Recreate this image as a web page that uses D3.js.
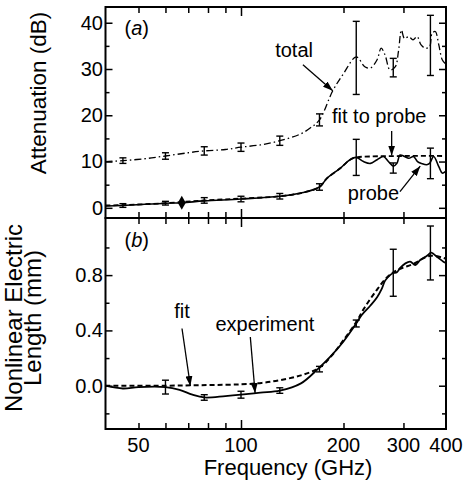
<!DOCTYPE html>
<html>
<head>
<meta charset="utf-8">
<script src="https://cdn.jsdelivr.net/npm/d3@7"></script>
<style>
  body { margin: 0; background: #fff; }
  svg text { font-family: "Liberation Sans", Arial, sans-serif; fill: #000; }
</style>
</head>
<body>
<div id="chart"></div>
<script>
"use strict";

// (a) attenuation, total (dash-dot)
const totalFreq = [40, 45, 52, 60, 70, 78, 90, 100, 114, 130, 150, 160, 170, 186, 200, 218, 231, 240, 251, 258, 265, 274, 284, 290, 296, 302, 311, 320, 329, 338, 348, 358, 364, 372, 381, 390, 398];
const totalDb   = [10.0, 10.2, 10.6, 11.2, 11.9, 12.3, 12.6, 13.1, 13.6, 14.5, 16.0, 17.3, 19.0, 25.3, 29.0, 32.6, 30.5, 30.2, 32.0, 34.5, 33.0, 29.8, 30.5, 33.8, 38.4, 36.6, 37.0, 36.3, 37.0, 35.2, 34.5, 34.8, 37.7, 38.1, 35.2, 32.0, 31.2];

// (a) probe (solid)
const probeFreq = [40, 45, 60, 67, 78, 100, 130, 150, 170, 179, 196, 209, 218, 229, 240, 251, 262, 271, 280, 287, 293, 302, 311, 321, 330, 339, 351, 358, 368, 381, 390, 398];
const probeDb   = [0.4, 0.5, 1.0, 1.1, 1.5, 1.9, 2.5, 3.2, 4.5, 6.4, 8.6, 10.4, 10.9, 10.0, 9.6, 10.4, 11.1, 10.0, 9.0, 9.6, 11.4, 11.1, 10.7, 11.1, 10.0, 9.6, 9.3, 9.6, 11.1, 8.9, 7.5, 7.8];

// (a) fit to probe (dashed)
const fitProbeFreq = [40, 45, 60, 78, 100, 130, 150, 170, 179, 196, 209, 218, 240, 300, 398];
const fitProbeDb   = [0.5, 0.6, 1.0, 1.6, 2.0, 2.5, 3.2, 4.5, 6.4, 8.6, 10.4, 10.9, 11.1, 11.2, 11.2];

// (a) error bars
const errFreqA   = [45, 60, 78, 100, 130, 170, 218, 280, 360];
const totalMid   = [10.2, 11.2, 12.3, 13.1, 14.5, 19.0, 32.4, 30.3, 35.1];
const totalHalf  = [0.6, 0.7, 0.9, 0.9, 1.0, 1.3, 7.9, 2.0, 6.5];
const probeMid   = [0.5, 1.0, 1.6, 1.9, 2.5, 4.5, 10.9, 8.6, 9.6];
const probeHalf  = [0.4, 0.4, 0.6, 0.6, 0.6, 0.7, 3.9, 1.1, 3.3];

// (a) reference point (diamond)
const diamondFreq = [67];
const diamondDb   = [1.1];

// (b) nonlinear electric length, experiment (solid)
const expFreq = [40, 45, 50, 60, 66, 72, 78, 90, 100, 114, 130, 150, 168, 183, 200, 218, 226, 240, 251, 259, 265, 274, 280, 287, 293, 304, 314, 325, 336, 351, 362, 376, 393, 398];
const expMm   = [0.0, -0.02, -0.01, -0.01, -0.03, -0.065, -0.085, -0.075, -0.065, -0.05, -0.036, 0.017, 0.12, 0.21, 0.32, 0.45, 0.51, 0.58, 0.64, 0.70, 0.76, 0.80, 0.815, 0.82, 0.85, 0.885, 0.897, 0.873, 0.909, 0.938, 0.962, 0.933, 0.897, 0.89];

// (b) fit (dashed)
const fitLenFreq = [40, 60, 80, 100, 115, 130, 150, 170, 185, 200, 218, 230, 250, 270, 290, 320, 360, 398];
const fitLenMm   = [0.0, 0.0, 0.005, 0.01, 0.02, 0.04, 0.075, 0.13, 0.22, 0.33, 0.46, 0.56, 0.69, 0.79, 0.84, 0.88, 0.94, 0.92];

// (b) error bars
const errFreqB = [60, 78, 100, 130, 170, 218, 280, 360];
const lenMid   = [-0.01, -0.085, -0.065, -0.035, 0.12, 0.45, 0.817, 0.96];
const lenHalf  = [0.05, 0.02, 0.025, 0.02, 0.02, 0.025, 0.17, 0.195];

// ticks
const xLabels = [50, 100, 200, 300, 400];
const xMinor  = [50, 60, 70, 80, 90, 200, 300];
const xMajor  = [100];
const yMajorA = [0, 10, 20, 30, 40];
const yMinorA = [5, 15, 25, 35];
const yMajorB = [0, 0.4, 0.8];
const yMinorB = [-0.2, 0.2, 0.6, 1.0];

var width = 463, height = 488;
var left = 105.5, right = 446, topA = 7, mid = 218, bottomB = 429;

var x = d3.scaleLog().domain([40, 400]).range([left, right]);
var yA = d3.scaleLinear().domain([-2.2, 43.4]).range([mid, topA]);
var yB = d3.scaleLinear().domain([-0.313, 1.213]).range([bottomB, mid]);

var svg = d3.select("#chart").append("svg")
    .attr("width", width)
    .attr("height", height);

svg.append("defs").append("marker")
    .attr("id", "head")
    .attr("markerUnits", "userSpaceOnUse")
    .attr("markerWidth", 10)
    .attr("markerHeight", 7)
    .attr("refX", 10)
    .attr("refY", 3.5)
    .attr("orient", "auto")
  .append("path")
    .attr("d", "M0,0L10,3.5L0,7Z")
    .attr("fill", "#000");

// tick axes for one panel, all ticks point inward
function panelAxes(y, y0, y1, majors, minors, fmt) {
  var g = svg.append("g");
  g.append("g").attr("transform", "translate(" + left + ",0)")
    .call(d3.axisLeft(y).tickValues(majors).tickSize(-7).tickPadding(2.5).tickFormat(fmt));
  g.append("g").attr("transform", "translate(" + left + ",0)")
    .call(d3.axisLeft(y).tickValues(minors).tickSize(-4).tickFormat(""));
  g.append("g").attr("transform", "translate(" + right + ",0)")
    .call(d3.axisRight(y).tickValues(majors).tickSize(-7).tickFormat(""));
  g.append("g").attr("transform", "translate(" + right + ",0)")
    .call(d3.axisRight(y).tickValues(minors).tickSize(-4).tickFormat(""));
  g.append("g").attr("transform", "translate(0," + y0 + ")")
    .call(d3.axisTop(x).tickValues(xMinor).tickSize(-6).tickFormat(""));
  g.append("g").attr("transform", "translate(0," + y0 + ")")
    .call(d3.axisTop(x).tickValues(xMajor).tickSize(-9).tickFormat(""));
  g.append("g").attr("transform", "translate(0," + y1 + ")")
    .call(d3.axisBottom(x).tickValues(xMinor).tickSize(-6).tickFormat(""));
  g.append("g").attr("transform", "translate(0," + y1 + ")")
    .call(d3.axisBottom(x).tickValues(xMajor).tickSize(-9).tickFormat(""));
  g.selectAll(".domain").remove();
  g.selectAll(".tick text").filter(function() { return this.textContent === ""; }).remove();
  g.selectAll(".tick line").attr("stroke", "#000").attr("stroke-width", 1.5);
  g.selectAll(".tick text").style("font-size", "20px").style("font-family", "'Liberation Sans', Arial, sans-serif");
  svg.append("rect")
    .attr("x", left).attr("y", y0)
    .attr("width", right - left).attr("height", y1 - y0)
    .attr("fill", "none").attr("stroke", "#000").attr("stroke-width", 2);
}

panelAxes(yA, topA, mid, yMajorA, yMinorA, d3.format("d"));
panelAxes(yB, mid, bottomB, yMajorB, yMinorB, d3.format(".1f"));

// x labels under panel (b)
svg.append("g").selectAll("text")
    .data(xLabels)
  .enter().append("text")
    .attr("x", d => x(d))
    .attr("y", 452)
    .attr("text-anchor", "middle")
    .style("font-size", "20px")
    .text(d => d);

function curve(xs, ys, y, dash, w) {
  var line = d3.line()
      .x(d => x(d[0]))
      .y(d => y(d[1]))
      .curve(d3.curveCatmullRom.alpha(0.5));
  svg.append("path")
      .datum(xs.map((f, i) => [f, ys[i]]))
      .attr("d", line)
      .attr("fill", "none")
      .attr("stroke", "#000")
      .attr("stroke-width", w)
      .attr("stroke-dasharray", dash);
}

function errorBars(xs, mids, halfs, y) {
  var g = svg.append("g").attr("stroke", "#000").attr("stroke-width", 1.4);
  xs.forEach((f, i) => {
    var cx = x(f), lo = y(mids[i] - halfs[i]), hi = y(mids[i] + halfs[i]);
    g.append("line").attr("x1", cx).attr("x2", cx).attr("y1", lo).attr("y2", hi);
    g.append("line").attr("x1", cx - 3.5).attr("x2", cx + 3.5).attr("y1", lo).attr("y2", lo);
    g.append("line").attr("x1", cx - 3.5).attr("x2", cx + 3.5).attr("y1", hi).attr("y2", hi);
  });
}

// panel (a)
curve(totalFreq, totalDb, yA, "7,3,1.5,3", 1.3);
curve(fitProbeFreq, fitProbeDb, yA, "5,3", 1.8);
curve(probeFreq, probeDb, yA, null, 1.6);
errorBars(errFreqA, totalMid, totalHalf, yA);
errorBars(errFreqA, probeMid, probeHalf, yA);

svg.selectAll(".diamond")
    .data(diamondFreq)
  .enter().append("path")
    .attr("class", "diamond")
    .attr("transform", (d, i) => "translate(" + x(d) + "," + yA(diamondDb[i]) + ")")
    .attr("d", d3.symbol().type(d3.symbolDiamond).size(55))
    .attr("fill", "#000");

// panel (b)
curve(fitLenFreq, fitLenMm, yB, "5,3", 2);
curve(expFreq, expMm, yB, null, 1.8);
errorBars(errFreqB, lenMid, lenHalf, yB);

// labels and arrows, placed in data units
var notesA = [
  { text: "(a)", f: 45.5, v: 37.4, italic: true },
  { text: "total", f: 126, v: 32.6 },
  { text: "fit to probe", f: 185, v: 18.4 },
  { text: "probe", f: 206, v: 1.7 }
];
var arrowsA = [
  { f0: 152, v0: 30.9, f1: 186, v1: 25.3 },
  { f0: 277, v0: 16.6, f1: 277, v1: 11.3 },
  { f0: 293, v0: 3.5, f1: 336, v1: 9.0 }
];
var notesB = [
  { text: "(b)", f: 45.5, v: 1.003, italic: true },
  { text: "fit", f: 63.7, v: 0.49 },
  { text: "experiment", f: 84.1, v: 0.395 }
];
var arrowsB = [
  { f0: 67.1, v0: 0.414, f1: 71, v1: -0.002 },
  { f0: 106.5, v0: 0.352, f1: 110, v1: -0.053 }
];

function notes(list, arrows, y) {
  list.forEach(n => {
    var t = svg.append("text")
        .attr("x", x(n.f))
        .attr("y", y(n.v))
        .style("font-size", "20px");
    if (n.italic) {
      t.append("tspan").text("(");
      t.append("tspan").style("font-style", "italic").text(n.text.slice(1, -1));
      t.append("tspan").text(")");
    } else {
      t.text(n.text);
    }
  });
  arrows.forEach(a => {
    svg.append("line")
        .attr("x1", x(a.f0)).attr("y1", y(a.v0))
        .attr("x2", x(a.f1)).attr("y2", y(a.v1))
        .attr("stroke", "#000").attr("stroke-width", 1.3)
        .attr("marker-end", "url(#head)");
  });
}
notes(notesA, arrowsA, yA);
notes(notesB, arrowsB, yB);

// axis titles
svg.append("text")
    .attr("x", 288).attr("y", 475)
    .attr("text-anchor", "middle")
    .style("font-size", "22px")
    .text("Frequency (GHz)");

svg.append("text")
    .attr("transform", "translate(46,93) rotate(-90)")
    .attr("text-anchor", "middle")
    .style("font-size", "22.5px")
    .text("Attenuation (dB)");

var tb = svg.append("text")
    .attr("transform", "translate(0,318) rotate(-90)")
    .attr("text-anchor", "middle")
    .style("font-size", "24px");
tb.append("tspan").attr("x", 0).attr("y", 22).text("Nonlinear Electric");
tb.append("tspan").attr("x", 0).attr("y", 40.5).text("Length (mm)");
</script>
</body>
</html>
